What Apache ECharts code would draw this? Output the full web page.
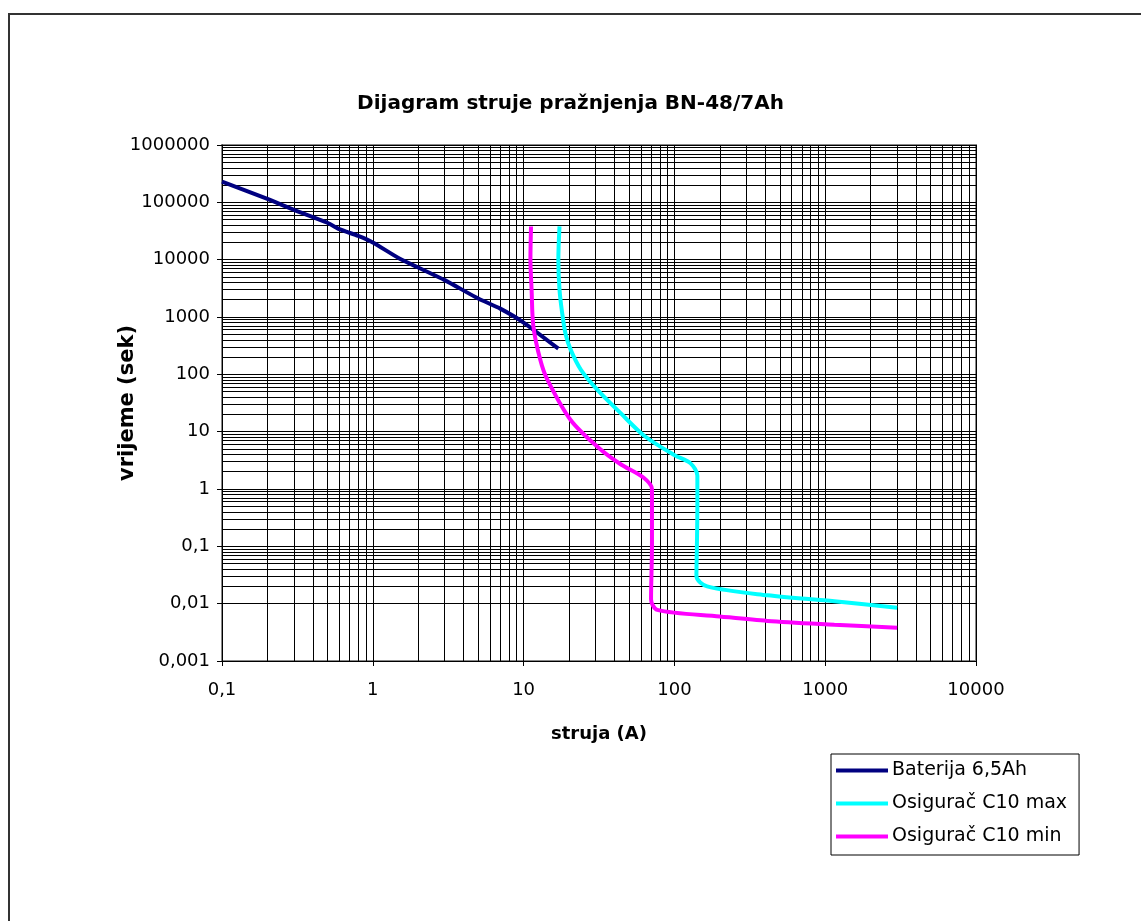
<!DOCTYPE html>
<html>
<head>
<meta charset="utf-8">
<title>Dijagram struje pražnjenja</title>
<script src="https://cdn.jsdelivr.net/npm/echarts@6/dist/echarts.min.js"></script>
<style>
  html, body { margin: 0; padding: 0; background: #fff; }
  #chart { width: 1141px; height: 921px; }
</style>
</head>
<body>
<div id="chart"></div>
<script>
// struja (A) / vrijeme (sek) parovi, očitano s dijagrama
const baterija = [
  [0.1, 230000], [0.2, 115000], [0.3, 74000], [0.5, 44000], [0.6, 34000],
  [0.8, 26000], [1, 20000], [1.5, 10500], [2, 7300], [3, 4400],
  [5, 2100], [7, 1400], [10, 800], [17, 280]
]
const osiguracMax = [
  [17.3, 38000], [17, 10000], [17.3, 3000], [18, 1200], [19, 500],
  [20.5, 270], [24, 120], [31, 53], [44, 21], [63, 8.5],
  [100, 3.9], [128, 2.8], [142, 1.7], [142, 0.5], [141, 0.1],
  [140, 0.03], [165, 0.02], [414, 0.014], [1150, 0.011], [3000, 0.0085]
]
const osiguracMin = [
  [11.2, 38000], [11.1, 10000], [11.3, 3000], [11.6, 700], [12.9, 180],
  [14.4, 80], [20.5, 16], [31, 5.4], [44, 2.7], [62, 1.6],
  [71, 1], [71, 0.1], [70, 0.012], [77, 0.0078], [200, 0.006],
  [414, 0.005], [1150, 0.0043], [3000, 0.0038]
]
const xTicks = [0.1, 1, 10, 100, 1000, 10000]
const yTicks = [0.001, 0.01, 0.1, 1, 10, 100, 1000, 10000, 100000, 1000000]
const xTickLabels = ['0,1', '1', '10', '100', '1000', '10000']
const yTickLabels = ['0,001', '0,01', '0,1', '1', '10', '100', '1000', '10000', '100000', '1000000']

// pomoćne linije mreže 2..9 unutar svake dekade
function minorValues (ticks) {
  let out = []
  for (let i = 0; i < ticks.length - 1; i++) {
    for (let k = 2; k <= 9; k++) out.push(+(ticks[i] * k).toPrecision(6))
  }
  return out
}

function tickLabel (ticks, labels, v) {
  for (let i = 0; i < ticks.length; i++) {
    if (Math.abs(Math.log10(v) - Math.log10(ticks[i])) < 1e-6) return labels[i]
  }
  return ''
}

const FONT = 'DejaVu Sans, Liberation Sans, sans-serif'
const myChart = echarts.init(document.getElementById('chart'), null, { renderer: 'canvas' })
const gridLine = { color: '#000', width: 1, type: 'solid' }

const option = {
  animation: false,
  backgroundColor: '#fff',
  textStyle: { fontFamily: FONT },
  title: {
    text: 'Dijagram struje pražnjenja BN-48/7Ah',
    left: 'center',
    top: 89,
    textStyle: { fontSize: 20, fontWeight: 'bold', color: '#000', fontFamily: FONT }
  },
  graphic: [
    {
      type: 'polyline',
      silent: true,
      shape: { points: [[9, 921], [9, 14], [1141, 14]] },
      style: { stroke: '#333', lineWidth: 2, fill: null }
    }
  ],
  grid: {
    left: 222,
    top: 145,
    right: 165,
    bottom: 260,
    show: true,
    borderColor: '#888',
    borderWidth: 2
  },
  legend: {
    orient: 'vertical',
    left: 831,
    top: 754,
    data: ['Baterija 6,5Ah', 'Osigurač C10 max', 'Osigurač C10 min'],
    itemWidth: 52,
    itemHeight: 4,
    itemGap: 14,
    padding: [7, 12, 9, 5],
    borderColor: '#000',
    borderWidth: 1,
    icon: 'rect',
    itemStyle: { borderWidth: 0 },
    textStyle: { fontSize: 19, color: '#000', padding: [0, 0, 0, -1], fontFamily: FONT }
  },
  xAxis: {
    type: 'log',
    logBase: 10,
    min: 0.1,
    max: 10000,
    interval: 1,
    name: 'struja (A)',
    nameLocation: 'middle',
    nameGap: 64,
    nameMoveOverlap: false,
    nameTextStyle: { fontSize: 18, fontWeight: 'bold', color: '#000', fontFamily: FONT },
    axisLine: { show: true, onZero: false, lineStyle: { color: '#000', width: 1 } },
    axisTick: { show: true, length: 5, lineStyle: { color: '#000' } },
    axisLabel: {
      fontSize: 18,
      color: '#000',
      margin: 20,
      fontFamily: FONT,
      formatter: v => tickLabel(xTicks, xTickLabels, v)
    },
    splitLine: { show: true, lineStyle: gridLine }
  },
  yAxis: {
    type: 'log',
    logBase: 10,
    min: 0.001,
    max: 1000000,
    interval: 1,
    name: 'vrijeme (sek)',
    nameLocation: 'middle',
    nameGap: 84,
    nameRotate: 90,
    nameMoveOverlap: false,
    nameTextStyle: { fontSize: 21, fontWeight: 'bold', color: '#000', fontFamily: FONT },
    axisLine: { show: true, onZero: false, lineStyle: { color: '#000', width: 1 } },
    axisTick: { show: true, length: 5, lineStyle: { color: '#000' } },
    axisLabel: {
      fontSize: 18,
      color: '#000',
      margin: 12,
      fontFamily: FONT,
      formatter: v => tickLabel(yTicks, yTickLabels, v)
    },
    splitLine: { show: true, lineStyle: gridLine }
  },
  series: [
    {
      // samo pomoćne linije mreže
      name: 'mreza',
      type: 'line',
      data: [],
      z: 1,
      silent: true,
      markLine: {
        silent: true,
        symbol: 'none',
        animation: false,
        label: { show: false },
        lineStyle: gridLine,
        emphasis: { disabled: true },
        data: minorValues(xTicks).map(v => ({ xAxis: v }))
          .concat(minorValues(yTicks).map(v => ({ yAxis: v })))
      }
    },
    {
      name: 'Baterija 6,5Ah',
      type: 'line',
      data: baterija,
      showSymbol: false,
      smooth: 0.2,
      z: 5,
      color: '#000080',
      lineStyle: { color: '#000080', width: 4 }
    },
    {
      name: 'Osigurač C10 max',
      type: 'line',
      data: osiguracMax,
      showSymbol: false,
      smooth: 0.3,
      z: 5,
      color: '#00ffff',
      lineStyle: { color: '#00ffff', width: 4 }
    },
    {
      name: 'Osigurač C10 min',
      type: 'line',
      data: osiguracMin,
      showSymbol: false,
      smooth: 0.3,
      z: 5,
      color: '#ff00ff',
      lineStyle: { color: '#ff00ff', width: 4 }
    }
  ]
}

myChart.setOption(option)
</script>
</body>
</html>
